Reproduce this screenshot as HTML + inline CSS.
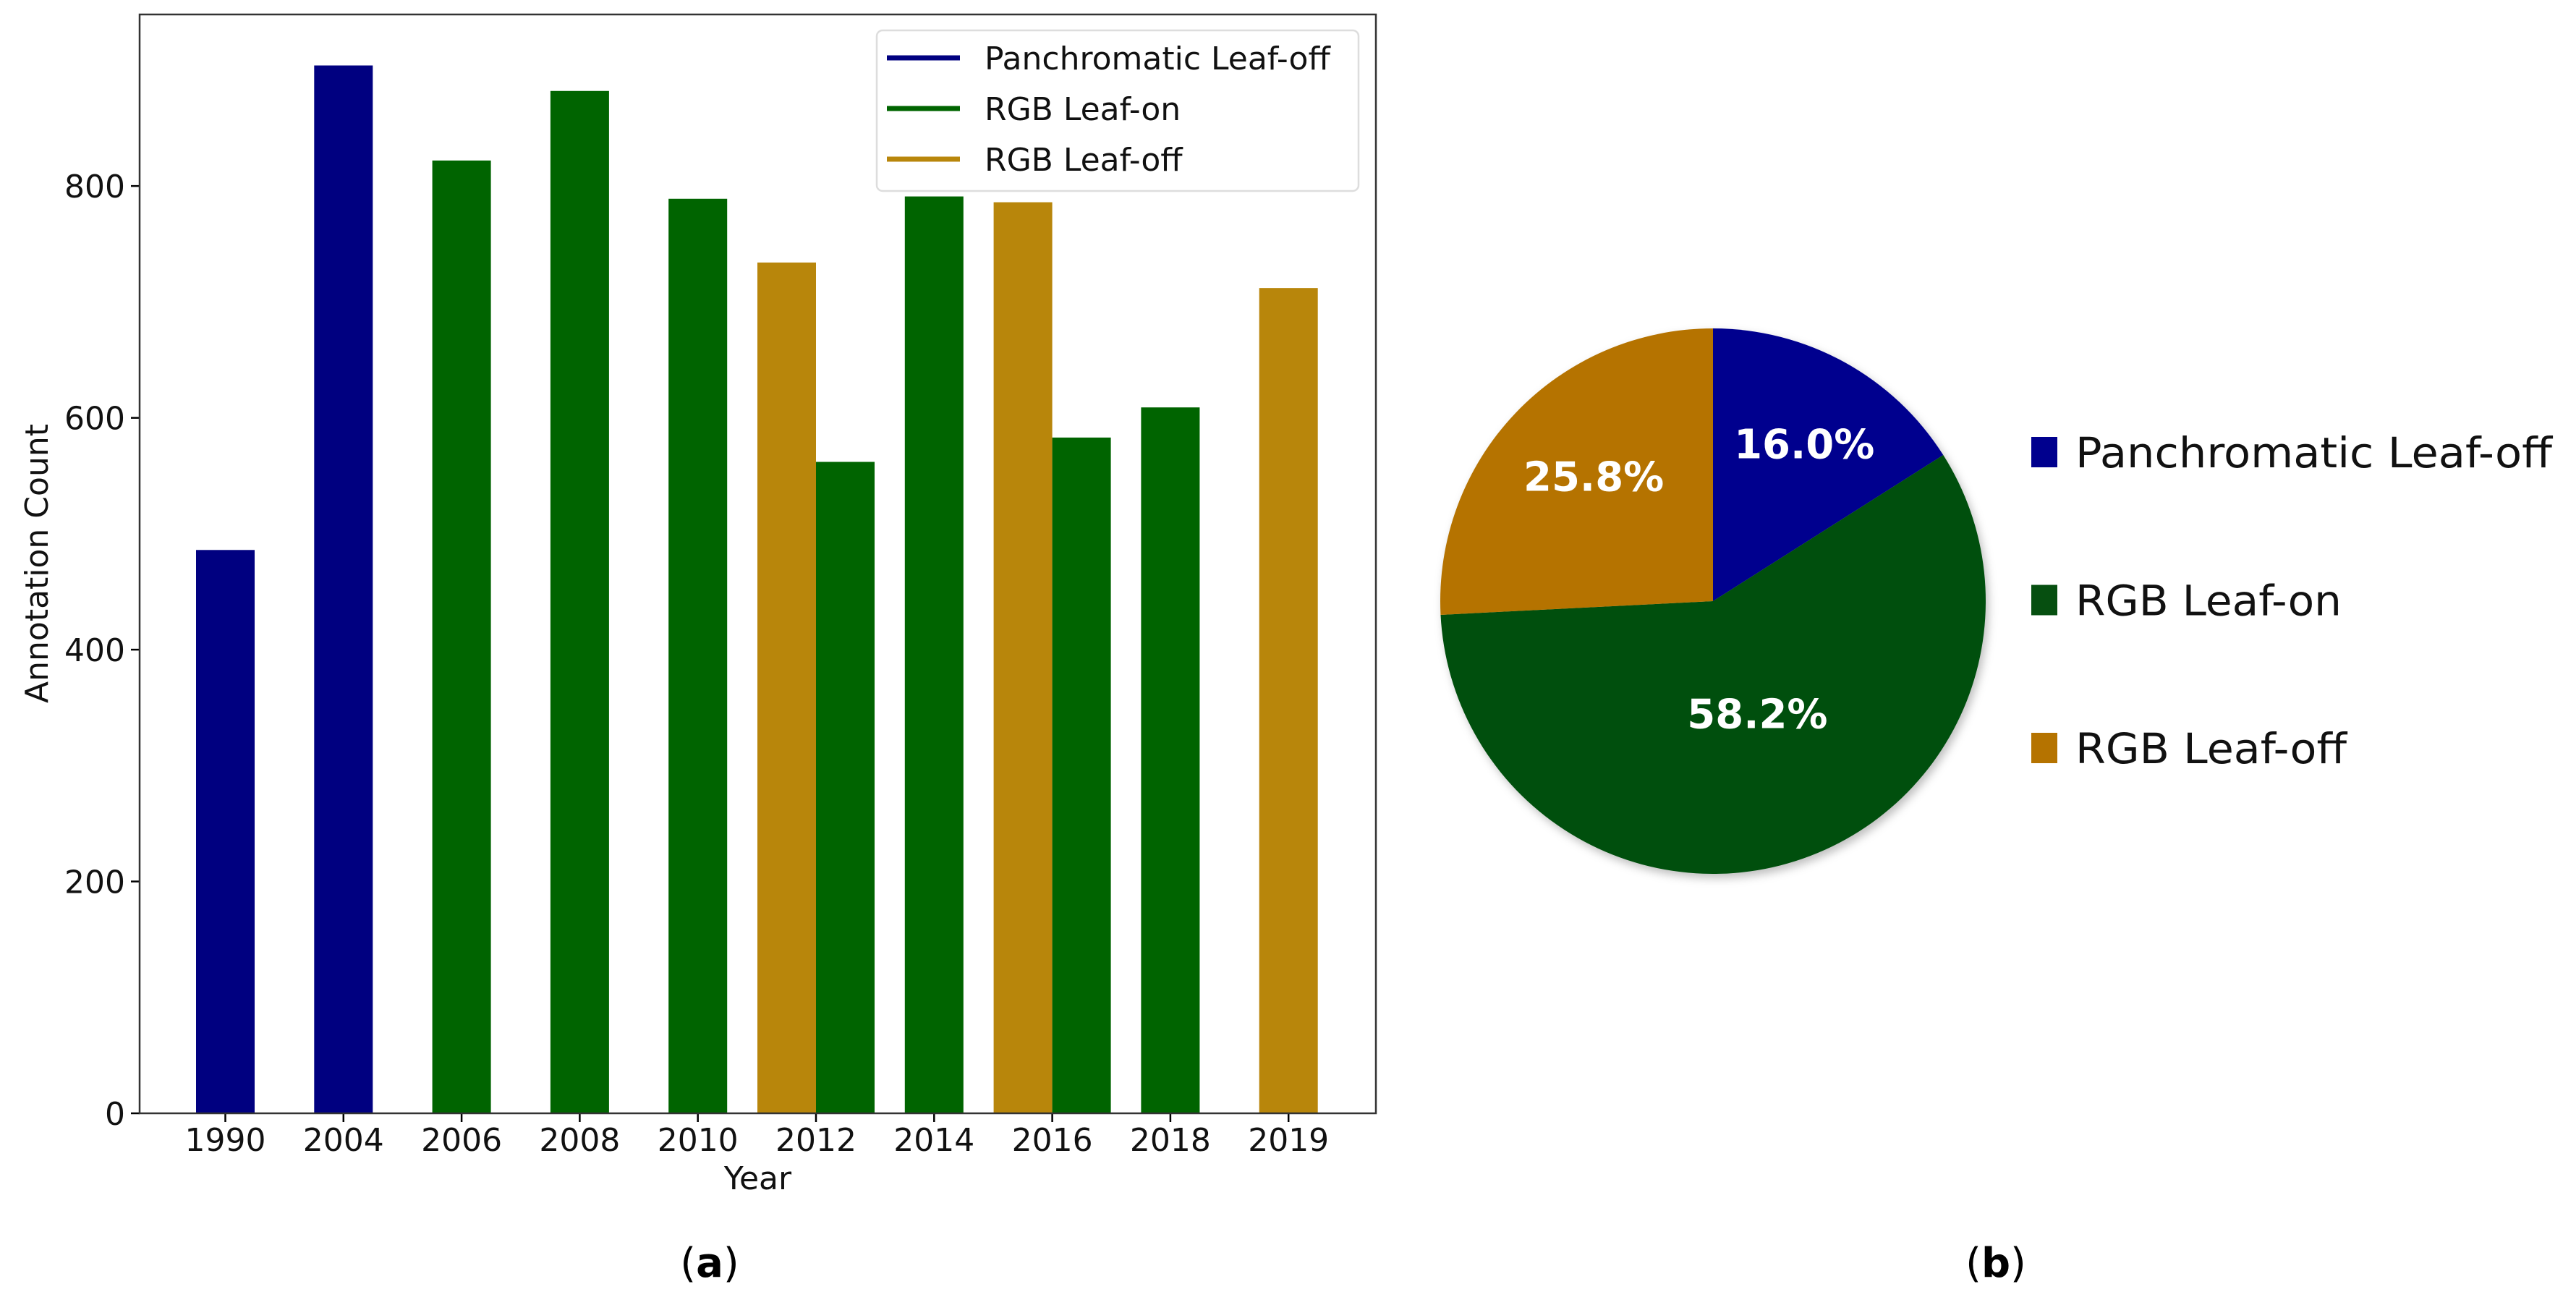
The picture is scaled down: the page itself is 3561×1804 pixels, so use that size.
<!DOCTYPE html>
<html><head><meta charset="utf-8"><style>
html,body{margin:0;padding:0;background:#fff;}
svg{display:block;}
text{font-family:"DejaVu Sans","Liberation Sans",sans-serif;}
</style></head><body>
<svg id="fig" width="3561" height="1804" viewBox="0 0 3561 1804" xmlns="http://www.w3.org/2000/svg">
<rect width="3561" height="1804" fill="#fff"/>
<g id="barChart"></g>
<g id="pieChart"></g>
<text x="981" y="1765" font-family="Liberation Serif,serif" font-size="56" text-anchor="middle">(<tspan font-weight="bold">a</tspan>)</text>
<text x="2759" y="1765" font-family="Liberation Serif,serif" font-size="56" text-anchor="middle">(<tspan font-weight="bold">b</tspan>)</text>
</svg>
<script>
const categories = ["1990","2004","2006","2008","2010","2012","2014","2016","2018","2019"];
const panLeafOff = [486, 904, null, null, null, null, null, null, null, null];
const rgbLeafOn  = [null, null, 822, 882, 789, 562, 791, 583, 609, null];
const rgbLeafOff = [null, null, null, null, null, 734, null, 786, null, 712];
const yTicks = [0, 200, 400, 600, 800];
const seriesNames = ["Panchromatic Leaf-off", "RGB Leaf-on", "RGB Leaf-off"];
const pieValues = [16.0, 58.2, 25.8];
const pieLabels = ["16.0%", "58.2%", "25.8%"];

const NS = "http://www.w3.org/2000/svg";
function mk(tag, attrs, parent){ const e=document.createElementNS(NS,tag); for(const k in attrs) e.setAttribute(k,attrs[k]); parent.appendChild(e); return e; }

const L=193, R=1902, T=20, B=1539, YMAX=948;
const x0=311.5, step=163.3, bw=81;
const xPos = i => x0 + i*step;
const yPos = v => B - (v/YMAX)*(B-T);
const bc = document.getElementById('barChart');
const barColors = ["#000080","#006400","#B8860B"];
const series = [panLeafOff, rgbLeafOn, rgbLeafOff];
const drawOrder = [0, 2, 1]; // leaf-off drawn left of leaf-on within a year

categories.forEach((c,i)=>{
  const n = series.filter(s=>s[i]!=null).length;
  let k=0;
  drawOrder.forEach(si=>{
    const s = series[si];
    if(s[i]==null) return;
    const xl = n===1 ? xPos(i)-bw/2 : xPos(i) - bw + k*bw;
    k++;
    const r = mk('rect',{x:xl,y:yPos(s[i]),width:bw,height:B-yPos(s[i]),fill:barColors[si]},bc);
    
    
  });
  const t = mk('line',{x1:xPos(i),x2:xPos(i),y1:B,y2:B+12,stroke:"#000","stroke-width":2.5},bc);
  
  
  const lb = mk('text',{x:xPos(i),y:B+52,"font-size":44,"text-anchor":"middle",fill:"#111"},bc);
  lb.textContent=c;
  
  
});
yTicks.forEach(v=>{
  const t = mk('line',{x1:L-12,x2:L,y1:yPos(v),y2:yPos(v),stroke:"#000","stroke-width":2.5},bc);
  
  
  const lb = mk('text',{x:L-20,y:yPos(v)+16,"font-size":44,"text-anchor":"end",fill:"#111"},bc);
  lb.textContent=v;
  
  
});
const frame = mk('rect',{x:L,y:T,width:R-L,height:B-T,fill:"none",stroke:"#333","stroke-width":2.5},bc);


const xt = mk('text',{x:(L+R)/2,y:1644,"font-size":44,"text-anchor":"middle",fill:"#111"},bc);
xt.textContent="Year";


const yt = mk('text',{x:0,y:0,"font-size":44,"text-anchor":"middle",fill:"#111",transform:"translate(66,779) rotate(-90)"},bc);
yt.textContent="Annotation Count";


const lg = mk('g',{},bc);


mk('rect',{x:1212,y:42,width:666,height:222,rx:8,fill:"#fff",stroke:"#ddd","stroke-width":2.5},lg);
seriesNames.forEach((nm,i)=>{
  const y = 80 + i*70;
  const ln = mk('line',{x1:1226,x2:1327,y1:y,y2:y,stroke:barColors[i],"stroke-width":7},lg);
  
  
  const tx = mk('text',{x:1361,y:y+16,"font-size":44,fill:"#111"},lg);
  tx.textContent=nm;
  
  
});

const pc = document.getElementById('pieChart');
const cx=2368, cy=831, rad=377;
const pieColors=["#00008E","#064F10","#B57300"];
const total = pieValues.reduce((a,b)=>a+b,0);
let ang=0;
const defs = mk('defs',{},pc);
const f = mk('filter',{id:"sh",x:"-10%",y:"-10%",width:"120%",height:"120%"},defs);
mk('feDropShadow',{dx:4,dy:6,stdDeviation:6,"flood-color":"#000","flood-opacity":0.25},f);
const pg = mk('g',{filter:"url(#sh)"},pc);
const labelPos=[];
pieValues.forEach((v,i)=>{
  const a0=ang, a1=ang+v/total*2*Math.PI; ang=a1;
  const p = (a)=>[cx+rad*Math.sin(a), cy-rad*Math.cos(a)];
  const [xa,ya]=p(a0),[xb,yb]=p(a1);
  const large = (a1-a0)>Math.PI?1:0;
  const s = mk('path',{d:`M${cx},${cy} L${xa},${ya} A${rad},${rad} 0 ${large} 1 ${xb},${yb} Z`,fill:pieColors[i]},pg);
  
  
  const am=(a0+a1)/2, lr = i===1?0.45:0.64;
  labelPos.push([cx+rad*lr*Math.sin(am), cy-rad*lr*Math.cos(am)]);
});
pieLabels.forEach((t,i)=>{
  const tx = mk('text',{x:labelPos[i][0]+10,y:labelPos[i][1]+14,"font-size":56,"font-weight":"bold","font-family":"Liberation Sans Narrow,Liberation Sans,sans-serif","text-anchor":"middle",fill:"#fff"},pc);
  tx.textContent=t;
  
  
});
const pl = mk('g',{},pc);


seriesNames.forEach((nm,i)=>{
  const y = 625 + i*204.5;
  const sq = mk('rect',{x:2808,y:y-21,width:36,height:42,fill:pieColors[i]},pl);
  
  
  const tx = mk('text',{x:2869,y:y+21,"font-size":58,"font-family":"Liberation Sans,sans-serif",fill:"#111"},pl);
  tx.textContent=nm;
  if(i===0) tx.setAttribute('textLength','659');
  if(i===1) tx.setAttribute('textLength','368');
  if(i===2) tx.setAttribute('textLength','375');
  tx.setAttribute('lengthAdjust','spacingAndGlyphs');
  
  
});
</script>
</body></html>
